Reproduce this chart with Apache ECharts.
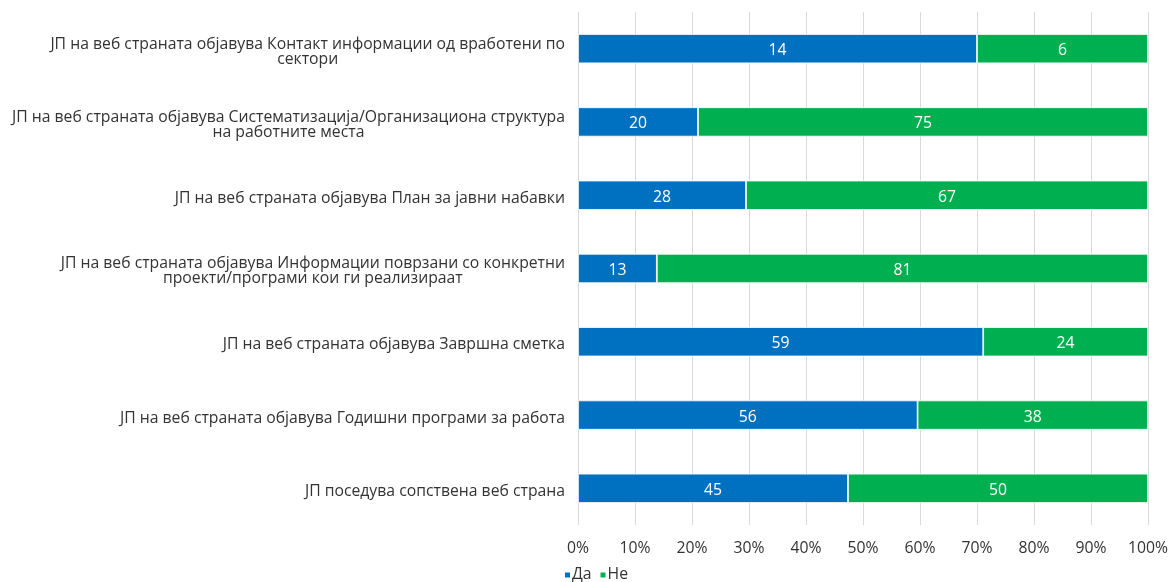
<!DOCTYPE html>
<html>
<head>
<meta charset="utf-8">
<script src="https://cdn.jsdelivr.net/npm/echarts@6/dist/echarts.min.js"></script>
<style>
  html, body { margin: 0; padding: 0; background: #fff; }
  #chart { width: 1176px; height: 582px; }
</style>
</head>
<body>
<div id="chart"></div>
<script>
// Questions, listed bottom-to-top as the category axis draws them
const categories = [
  'ЈП поседува сопствена веб страна',
  'ЈП на веб страната објавува Годишни програми за работа',
  'ЈП на веб страната објавува Завршна сметка',
  'ЈП на веб страната објавува Информации поврзани со конкретни\nпроекти/програми кои ги реализираат',
  'ЈП на веб страната објавува План за јавни набавки',
  'ЈП на веб страната објавува Систематизација/Организациона структура\nна работните места',
  'ЈП на веб страната објавува Контакт информации од вработени по\nсектори'
];

// Counts of answers per question
const yesCounts = [45, 56, 59, 13, 28, 20, 14];
const noCounts  = [50, 38, 24, 81, 67, 75, 6];

const seriesNames = ['Да', 'Не'];
const seriesColors = ['#0070C0', '#00B050'];

// Value axis ticks (percent)
const axisTicks = [0, 10, 20, 30, 40, 50, 60, 70, 80, 90, 100];

// Share of each answer within a question, in percent
function share(counts) {
  return counts.map((v, i) => ({
    value: v / (yesCounts[i] + noCounts[i]) * 100,
    count: v
  }));
}

const FONT = '"Open Sans", sans-serif';
const FS = 15.75;
const TXT = '#333333';

const chart = echarts.init(document.getElementById('chart'), null, { renderer: 'canvas' });

chart.setOption({
  animation: false,
  textStyle: { fontFamily: FONT },
  grid: { left: 578, right: 28, top: 12, bottom: 57, containLabel: false },
  legend: {
    bottom: -6,
    left: 558,
    itemWidth: 7,
    itemHeight: 7,
    itemGap: 7,
    icon: 'rect',
    textStyle: { fontFamily: FONT, fontSize: FS, color: TXT, padding: [0, 0, 0, -4] },
    data: seriesNames
  },
  xAxis: {
    type: 'value',
    min: axisTicks[0],
    max: axisTicks[axisTicks.length - 1],
    interval: axisTicks[1] - axisTicks[0],
    axisLine: { show: false },
    axisTick: { show: false },
    splitLine: { show: true, lineStyle: { color: '#d9d9d9', width: 1 } },
    axisLabel: {
      margin: 16,
      fontFamily: FONT,
      fontSize: FS,
      color: TXT,
      formatter: '{value}%'
    }
  },
  yAxis: {
    type: 'category',
    data: categories,
    axisLine: { show: false },
    axisTick: { show: false },
    axisLabel: {
      margin: 13,
      fontFamily: FONT,
      fontSize: FS,
      color: TXT,
      lineHeight: 15,
      padding: [6, 0, 0, 0],
      formatter: (txt) => txt.split('\n').map(l => '{c|' + l + '}').join('\n'),
      rich: {
        c: { align: 'center', fontFamily: FONT, fontSize: FS, color: TXT, lineHeight: 15 }
      }
    }
  },
  series: [yesCounts, noCounts].map((counts, si) => ({
    name: seriesNames[si],
    type: 'bar',
    stack: 'total',
    barWidth: '40%',
    data: share(counts),
    itemStyle: { color: seriesColors[si], borderColor: '#ffffff', borderWidth: 0.8 },
    label: {
      show: true,
      position: 'inside',
      offset: [0, 2],
      color: '#ffffff',
      fontFamily: FONT,
      fontSize: FS,
      formatter: (p) => p.data.count
    }
  }))
});
</script>
</body>
</html>
